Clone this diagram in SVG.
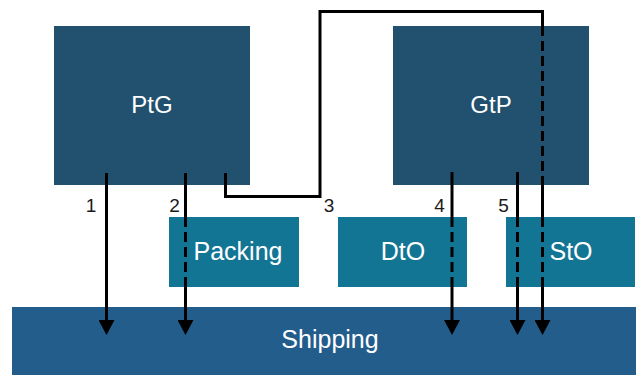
<svg xmlns="http://www.w3.org/2000/svg" width="636" height="375" viewBox="0 0 636 375">
  <style>
    .dark { fill: #22516f; }
    .teal { fill: #137594; }
    .ship { fill: #235d8c; }
    .lbl { font-family: "Liberation Sans", Arial, sans-serif; font-size: 25px; fill: #ffffff; text-anchor: middle; }
    .big { font-size: 24px; }
    .num { font-family: "Liberation Sans", Arial, sans-serif; font-size: 19px; fill: #1a1a1a; text-anchor: middle; }
    .ln { fill: none; stroke: #000000; stroke-width: 3; }
    .dash { stroke-dasharray: 10 5; }
    .arr { marker-end: url(#ah); }
  </style>
  <defs>
    <marker id="ah" markerUnits="userSpaceOnUse" viewBox="0 0 15 16" refX="5" refY="8" markerWidth="15" markerHeight="16" orient="auto">
      <path d="M0,0 L15,8 L0,16 z" fill="#000000"/>
    </marker>
  </defs>

  <g id="shipping">
    <rect class="ship" x="12" y="307" width="624" height="68"/>
    <text class="lbl" x="330" y="348">Shipping</text>
  </g>
  <g id="ptg">
    <rect class="dark" x="54" y="26" width="196" height="159"/>
    <text class="lbl big" x="152" y="113">PtG</text>
  </g>
  <g id="gtp">
    <rect class="dark" x="393" y="26" width="196" height="159"/>
    <text class="lbl big" x="491" y="113">GtP</text>
  </g>
  <g id="packing">
    <rect class="teal" x="169" y="217" width="130" height="70"/>
    <text class="lbl" x="238" y="260">Packing</text>
  </g>
  <g id="dto">
    <rect class="teal" x="338" y="217" width="129" height="70"/>
    <text class="lbl" x="403" y="260">DtO</text>
  </g>
  <g id="sto">
    <rect class="teal" x="506" y="217" width="129" height="70"/>
    <text class="lbl" x="571" y="260">StO</text>
  </g>

  <g id="connectors">
    <!-- 1 -->
    <path class="ln arr" d="M106.5,173 V325"/>
    <!-- 2 -->
    <path class="ln" d="M185.5,173 V217"/>
    <path class="ln dash" d="M185.5,217 V287"/>
    <path class="ln arr" d="M185.5,287 V325"/>
    <!-- 3 -->
    <path class="ln" d="M225.5,173 V196.5 H320 V11.5 H542.5 V26"/>
    <path class="ln dash" d="M542.5,26 V185"/>
    <path class="ln" d="M542.5,185 V217"/>
    <path class="ln dash" d="M542.5,217 V287"/>
    <path class="ln arr" d="M542.5,287 V325"/>
    <!-- 4 -->
    <path class="ln" d="M452,172 V217"/>
    <path class="ln dash" d="M452,217 V287"/>
    <path class="ln arr" d="M452,287 V325"/>
    <!-- 5 -->
    <path class="ln" d="M517.5,172 V217"/>
    <path class="ln dash" d="M517.5,217 V287"/>
    <path class="ln arr" d="M517.5,287 V325"/>

    <text class="num" x="91" y="212">1</text>
    <text class="num" x="174.5" y="212">2</text>
    <text class="num" x="329" y="212">3</text>
    <text class="num" x="439.5" y="212">4</text>
    <text class="num" x="503.5" y="212">5</text>
  </g>
</svg>
